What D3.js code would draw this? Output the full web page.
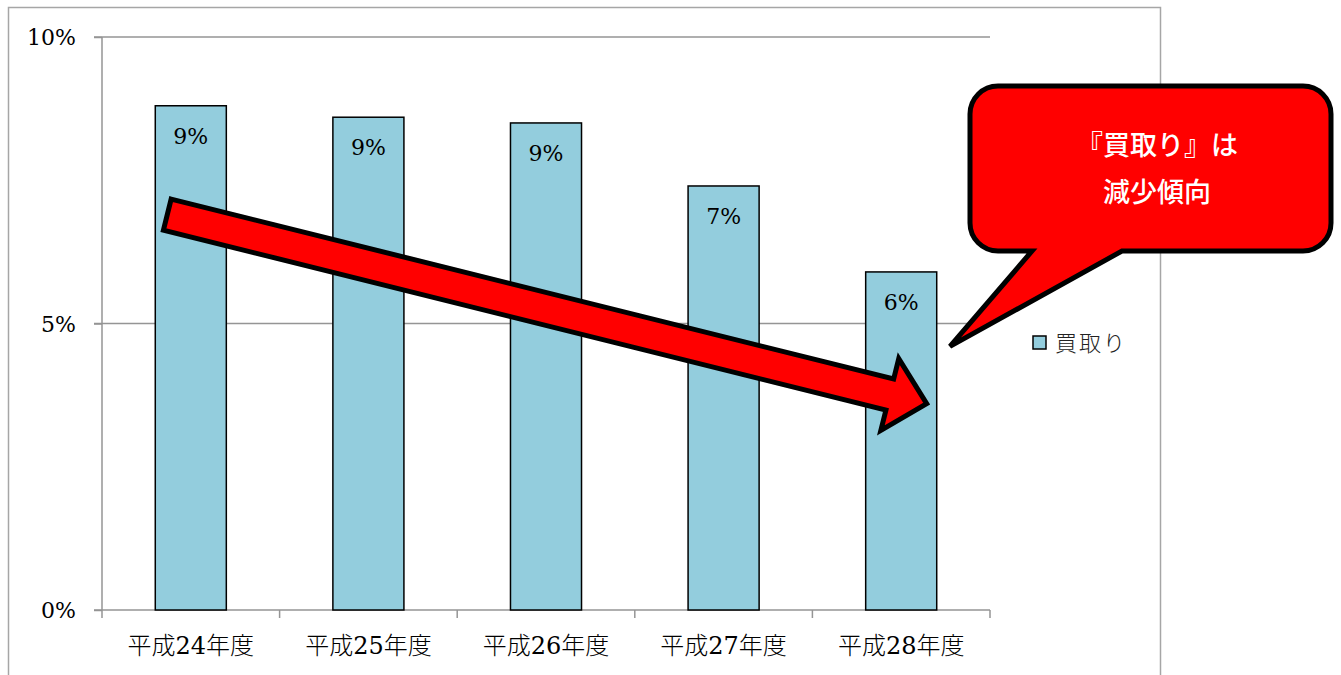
<!DOCTYPE html>
<html>
<head>
<meta charset="utf-8">
<script src="https://cdnjs.cloudflare.com/ajax/libs/d3/7.8.5/d3.min.js"></script>
<style>
  body { margin: 0; background: #fff; }
  svg { display: block; }
</style>
</head>
<body>
<div id="chart"></div>
<script>
// data
var categories = ['平成24年度', '平成25年度', '平成26年度', '平成27年度', '平成28年度'];
var values = [8.8, 8.6, 8.5, 7.4, 5.9];
var valueLabels = ['9%', '9%', '9%', '7%', '6%'];
var yTicks = [0, 5, 10];
var yTickLabels = ['0%', '5%', '10%'];
var seriesName = '買取り';
var calloutLines = ['『買取り』は', '減少傾向'];

var serif = '"DejaVu Serif", "Noto Sans CJK JP", serif';
var svgWidth = 1341, svgHeight = 675;
var margin = {top: 37, right: 351, bottom: 65, left: 102};
var width = svgWidth - margin.left - margin.right;
var height = svgHeight - margin.top - margin.bottom;

var svg = d3.select('#chart').append('svg')
    .attr('width', svgWidth).attr('height', svgHeight);

// outer chart border
svg.append('rect')
    .attr('x', 8.5).attr('y', 7.5)
    .attr('width', 1152).attr('height', 700)
    .attr('fill', 'none').attr('stroke', '#a6a6a6').attr('stroke-width', 1.5);

var g = svg.append('g')
    .attr('transform', 'translate(' + margin.left + ',' + margin.top + ')');

var x = d3.scaleBand().domain(categories).range([0, width]).paddingInner(0.6).paddingOuter(0.3);
var xb = d3.scaleBand().domain(categories).range([0, width]);
var y = d3.scaleLinear().domain([0, 10]).range([height, 0]);

// gridlines
g.selectAll('.grid').data(yTicks.filter(function(d) { return d > 0; }))
  .enter().append('line')
    .attr('x1', -8).attr('x2', width)
    .attr('y1', function(d) { return y(d); }).attr('y2', function(d) { return y(d); })
    .attr('stroke', '#959595').attr('stroke-width', 1.5);

// y axis
var yAxis = g.append('g').call(d3.axisLeft(y).tickValues(yTicks).tickSize(8)
    .tickFormat(function(d, i) { return yTickLabels[i]; }));
yAxis.attr('font-family', null).attr('font-size', null);
yAxis.select('.domain').attr('stroke', '#959595').attr('stroke-width', 1.5)
    .attr('d', 'M0,0V' + height);
yAxis.selectAll('.tick line').attr('stroke', '#959595').attr('stroke-width', 1.5);
yAxis.selectAll('.tick text').attr('x', -26).attr('fill', '#000')
    .style('font-family', serif).style('font-size', '22px').attr('dy', '0.35em');

// x axis
var xAxis = g.append('g').attr('transform', 'translate(0,' + height + ')')
    .call(d3.axisBottom(xb).tickSize(0).tickSizeOuter(0));
xAxis.attr('font-family', null).attr('font-size', null);
xAxis.select('.domain').attr('stroke', '#959595').attr('stroke-width', 1.5)
    .attr('d', 'M-8,0H' + width);
xAxis.selectAll('.tick text').attr('y', 44).attr('fill', '#000')
    .style('font-family', serif).style('font-size', '24px').style('font-weight', 300).attr('dy', '0');
var bounds = categories.map(function(c) { return xb(c); }).concat([width]);
g.selectAll('.xtick').data(bounds).enter().append('line')
    .attr('x1', function(d) { return d; }).attr('x2', function(d) { return d; })
    .attr('y1', height).attr('y2', height + 8)
    .attr('stroke', '#959595').attr('stroke-width', 1.5);

// bars
g.selectAll('.bar').data(values).enter().append('rect')
    .attr('x', function(d, i) { return x(categories[i]); })
    .attr('y', function(d) { return y(d); })
    .attr('width', x.bandwidth())
    .attr('height', function(d) { return height - y(d); })
    .attr('fill', '#93cddd').attr('stroke', '#000').attr('stroke-width', 1.5);

g.selectAll('.vlabel').data(values).enter().append('text')
    .attr('x', function(d, i) { return x(categories[i]) + x.bandwidth() / 2; })
    .attr('y', function(d) { return y(d) + 38; })
    .attr('text-anchor', 'middle')
    .style('font-family', serif).style('font-size', '22px')
    .text(function(d, i) { return valueLabels[i]; });

// trend arrow (annotation)
var ax0 = x(categories[0]) + 12, ay0 = y(6.9);
var ax1 = x(categories[4]) + 61, ay1 = y(3.6);
var len = Math.hypot(ax1 - ax0, ay1 - ay0);
var ang = Math.atan2(ay1 - ay0, ax1 - ax0) * 180 / Math.PI;
var h = 16, H = 37, head = 38;
var arrowPts = [[0, -h], [len - head, -h], [len - head, -H], [len, 0], [len - head, H], [len - head, h], [0, h]];
g.append('path')
    .attr('transform', 'translate(' + ax0 + ',' + ay0 + ') rotate(' + ang + ')')
    .attr('d', d3.line()(arrowPts) + 'Z')
    .attr('fill', '#ff0000').attr('stroke', '#000').attr('stroke-width', 5)
    .attr('stroke-linejoin', 'miter');

// legend
var legend = svg.append('g').attr('transform', 'translate(1033,336)');
legend.append('rect').attr('width', 13).attr('height', 13)
    .attr('fill', '#93cddd').attr('stroke', '#000').attr('stroke-width', 1.5);
legend.append('text').attr('x', 22).attr('y', 7).attr('dy', '0.35em')
    .style('font-family', '"Noto Sans CJK JP", sans-serif').style('font-size', '22px')
    .style('font-weight', 300).style('letter-spacing', '2px')
    .attr('fill', '#222').text(seriesName);

// callout
var cl = 970, ct = 86, cr = 1331, cb = 251, rad = 28;
var tipX = 950, tipY = y(4.6) + margin.top;
var p = d3.path();
p.moveTo(cl + rad, ct);
p.lineTo(cr - rad, ct);
p.arcTo(cr, ct, cr, ct + rad, rad);
p.lineTo(cr, cb - rad);
p.arcTo(cr, cb, cr - rad, cb, rad);
p.lineTo(1122, cb);
p.lineTo(tipX, tipY);
p.lineTo(1032, cb);
p.lineTo(cl + rad, cb);
p.arcTo(cl, cb, cl, cb - rad, rad);
p.lineTo(cl, ct + rad);
p.arcTo(cl, ct, cl + rad, ct, rad);
p.closePath();
svg.append('path').attr('d', p.toString())
    .attr('fill', '#ff0000').attr('stroke', '#000').attr('stroke-width', 5)
    .attr('stroke-linejoin', 'miter');

svg.selectAll('.ctext').data(calloutLines).enter().append('text')
    .attr('x', 1157).attr('y', function(d, i) { return 146 + i * 47; })
    .attr('dy', '0.35em').attr('text-anchor', 'middle')
    .style('font-family', '"Noto Sans CJK JP", sans-serif').style('font-size', '27px')
    .style('font-weight', 500)
    .attr('fill', '#fff')
    .text(function(d) { return d; });
</script>
</body>
</html>
